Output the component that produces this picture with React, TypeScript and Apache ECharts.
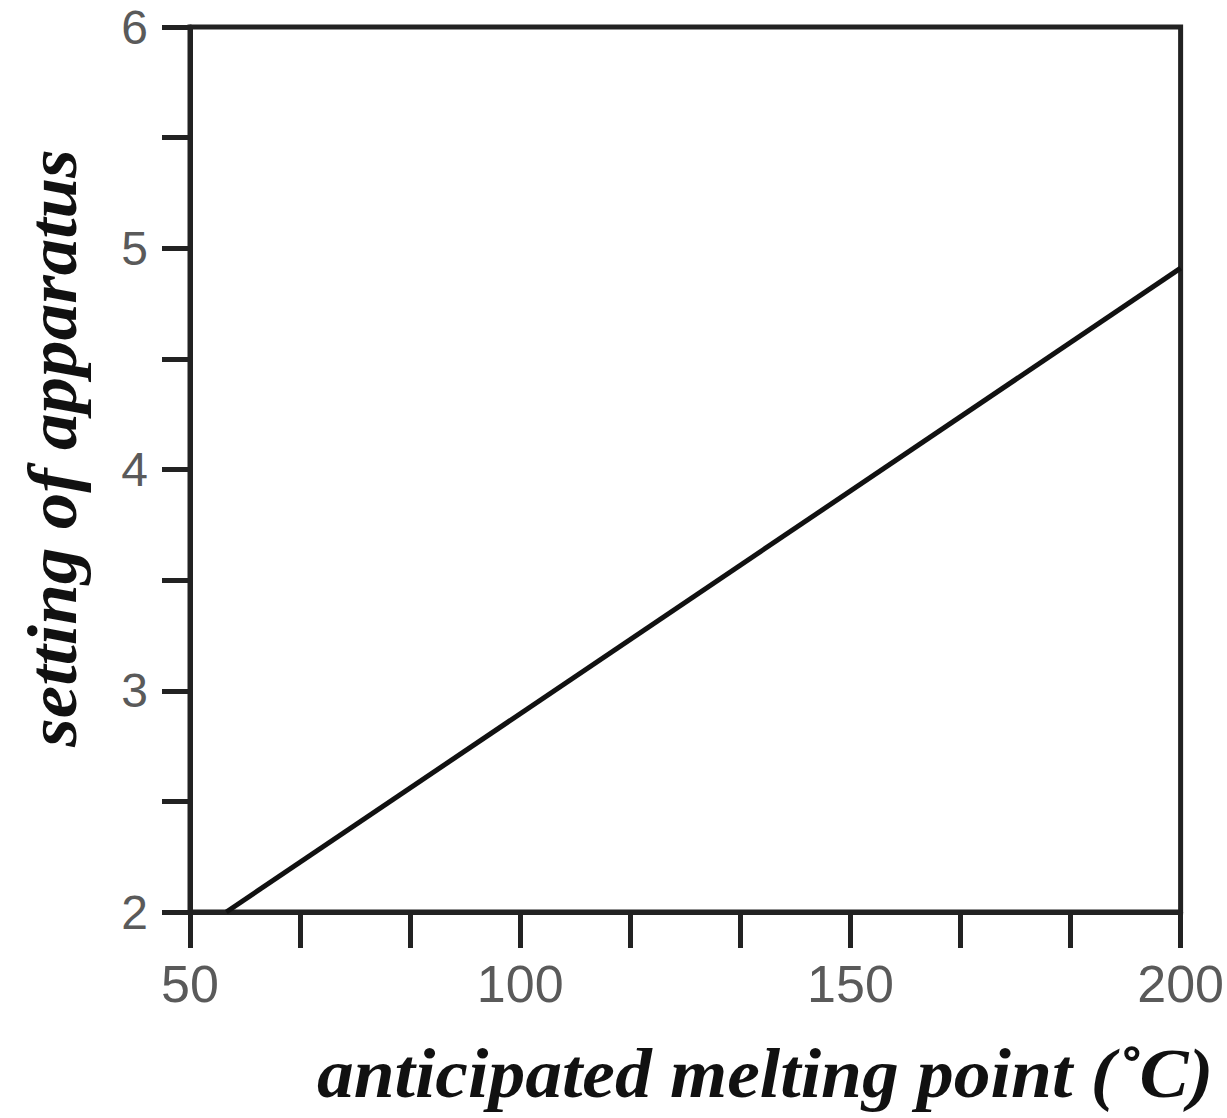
import React, { useEffect, useRef } from "react";
import * as echarts from "echarts";

const xTitle = "anticipated melting point (˚C)";
const yTitle = "setting of apparatus";
const xRange = [50, 200];
const yRange = [2, 6];
const lineX = [55.5, 200];
const lineY = [2, 4.91];

export default function App() {
  const ref = useRef<HTMLDivElement>(null);
  useEffect(() => {
    const chart = echarts.init(ref.current!, null, { renderer: "svg" });
    const titleFont = {
      fontFamily: "Liberation Serif",
      fontStyle: "italic",
      fontWeight: "bold",
      fontSize: 70,
      fill: "#111",
    };
    chart.setOption({
      animation: false,
      backgroundColor: "#fff",
      grid: {
        left: 190,
        right: 42,
        top: 27,
        bottom: 206,
        show: true,
        borderColor: "#222",
        borderWidth: 5,
      },
      xAxis: {
        type: "value",
        min: xRange[0],
        max: xRange[1],
        interval: 150 / 9,
        axisLine: { show: true, lineStyle: { color: "#222", width: 5 } },
        axisTick: { show: true, length: 36, lineStyle: { color: "#222", width: 5 } },
        splitLine: { show: false },
        axisLabel: {
          margin: 46,
          fontSize: 52,
          color: "#5a5a5a",
          fontFamily: "Liberation Sans",
          showMaxLabel: true,
          formatter: (v: number) => {
            const r = Math.round(v);
            return Math.abs(v - r) < 1e-4 && r % 50 === 0 ? String(r) : "";
          },
        },
      },
      yAxis: {
        type: "value",
        min: yRange[0],
        max: yRange[1],
        interval: 0.5,
        axisLine: { show: true, lineStyle: { color: "#222", width: 5 } },
        axisTick: { show: true, length: 28, lineStyle: { color: "#222", width: 5 } },
        splitLine: { show: false },
        axisLabel: {
          margin: 42,
          fontSize: 48,
          color: "#5a5a5a",
          fontFamily: "Liberation Sans",
          formatter: (v: number) => (Math.abs(v - Math.round(v)) < 1e-6 ? String(Math.round(v)) : ""),
        },
      },
      series: [
        {
          type: "line",
          data: lineX.map((x, i) => [x, lineY[i]]),
          symbol: "none",
          lineStyle: { color: "#111", width: 5 },
        },
      ],
      graphic: [
        {
          type: "text",
          x: 765,
          y: 1074,
          scaleX: 1.05,
          style: { ...titleFont, text: xTitle, align: "center", verticalAlign: "middle" },
        },
        {
          type: "text",
          x: 52,
          y: 448,
          rotation: Math.PI / 2,
          scaleX: 1.045,
          style: { ...titleFont, text: yTitle, align: "center", verticalAlign: "middle" },
        },
      ],
    });
    return () => chart.dispose();
  }, []);
  return (
    <div
      ref={ref}
      style={{ position: "fixed", left: 0, top: 0, width: 1227, height: 1118 }}
    />
  );
}
